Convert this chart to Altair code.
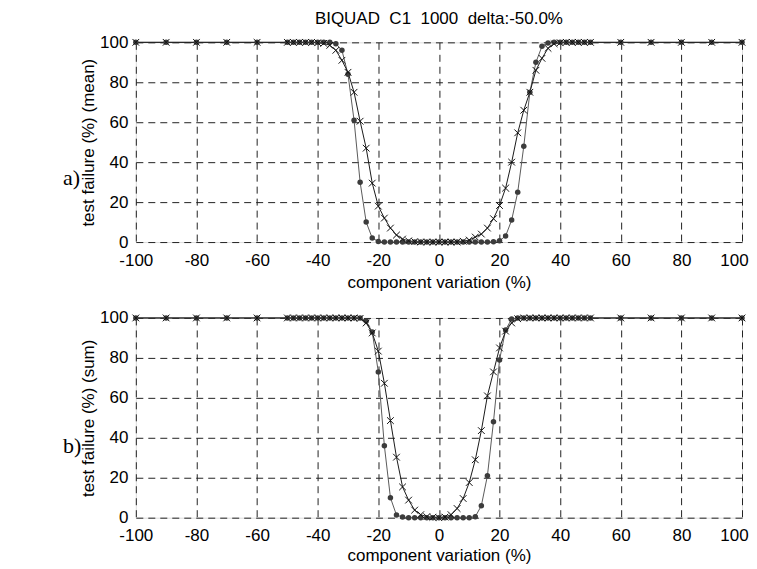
import altair as alt
import pandas as pd

# component variation (%)
x_vals = [-100, -90, -80, -70, -60,
          -50, -48, -46, -44, -42, -40, -38, -36, -34, -32, -30, -28, -26, -24, -22, -20,
          -18, -16, -14, -12, -10, -8, -6, -4, -2, 0, 2, 4, 6, 8, 10, 12, 14, 16, 18, 20,
          22, 24, 26, 28, 30, 32, 34, 36, 38, 40, 42, 44, 46, 48, 50,
          60, 70, 80, 90, 100]

# a) test failure (%) (mean)
mean_circle = [100, 100, 100, 100, 100,
               100, 100, 100, 100, 100, 100, 100, 100, 99.3, 96, 84, 61, 30, 10, 2, 0.3,
               0, 0, 0, 0, 0, 0, 0, 0, 0, 0, 0, 0, 0, 0, 0, 0, 0, 0, 0.2, 0.7,
               3, 11, 25, 48, 75, 90, 98, 99.7, 100, 100, 100, 100, 100, 100, 100,
               100, 100, 100, 100, 100]
mean_cross = [100, 100, 100, 100, 100,
              100, 100, 100, 100, 100, 99.8, 99.5, 98.5, 96, 91, 85, 75, 60.5, 47, 29.5, 18,
              12, 7, 3.5, 1.5, 0.6, 0.2, 0, 0, 0, 0, 0, 0, 0, 0.4, 1, 2.5, 4, 7, 11.7, 18.3,
              27, 40, 54.7, 66, 75, 86, 92, 97, 99.3, 99.8, 100, 100, 100, 100, 100,
              100, 100, 100, 100, 100]

# b) test failure (%) (sum)
sum_circle = [100, 100, 100, 100, 100,
              100, 100, 100, 100, 100, 100, 100, 100, 100, 100, 100, 100, 100, 98.5, 93, 73,
              36, 10, 1.3, 0.3, 0, 0, 0, 0, 0, 0, 0, 0, 0, 0, 0, 0.5, 6, 21, 48, 79,
              94, 99.5, 100, 100, 100, 100, 100, 100, 100, 100, 100, 100, 100, 100, 100,
              100, 100, 100, 100, 100]
sum_cross = [100, 100, 100, 100, 100,
             100, 100, 100, 100, 100, 100, 100, 100, 100, 100, 100, 100, 99.8, 97.5, 92.5, 83.4,
             67.3, 48.6, 30.3, 15.4, 8.8, 3.8, 1.5, 0.5, 0.2, 0, 0.3, 1.5, 4.6, 9.6, 17.6, 29,
             43.6, 61, 73, 85, 93.4, 97.5, 99.6, 100, 100, 100, 100, 100, 100, 100, 100,
             100, 100, 100, 100,
             100, 100, 100, 100, 100]

x_ticks = [-100, -80, -60, -40, -20, 0, 20, 40, 60, 80, 100]
y_ticks = [0, 20, 40, 60, 80, 100]

NBSP = "\u00a0"
chart_title = "BIQUAD" + NBSP + " C1" + NBSP + " 1000" + NBSP + " delta:-50.0%"
x_title = "component variation (%)"

W = 607
FONT = "Liberation Sans"
FS = 17
CROSS = "M -1 -1 L 1 1 M -1 1 L 1 -1"
LABEL_EXPR = "datum.value < 0 ? '-' + abs(datum.value) : '' + datum.value"


def panel(yc, yx, ytitle, tag, tag_y, H, xtitle_y, title=None):
    df = pd.DataFrame({"x": x_vals, "circ": yc, "crs": yx})
    base = alt.Chart(df)
    xenc = alt.X("x:Q", scale=alt.Scale(domain=[-100, 100], nice=False, zero=False),
                 axis=alt.Axis(values=x_ticks, title=x_title, grid=True,
                               gridDash=[7, 5], gridColor="#222", gridWidth=1,
                               ticks=False, domain=False, labelPadding=10,
                               labelFlush=False, labelExpr=LABEL_EXPR,
                               labelOffset={"condition": {"test": "datum.value == 100",
                                                          "value": -8},
                                            "value": 0},
                               labelFont=FONT, labelFontSize=FS, labelColor="black",
                               titleFont=FONT, titleFontSize=FS, titleFontWeight="normal",
                               titleColor="black", titleX=W / 2, titleY=xtitle_y,
                               titleBaseline="middle", titleAlign="center"))
    yaxis = alt.Axis(values=y_ticks, title=ytitle, grid=True,
                     gridDash=[7, 5], gridColor="#222", gridWidth=1,
                     ticks=False, domain=False, labelPadding=8, labelFlush=False,
                     labelFont=FONT, labelFontSize=FS, labelColor="black",
                     titleFont=FONT, titleFontSize=FS, titleFontWeight="normal",
                     titleColor="black", titleX=-47, titleY=H / 2, titleAngle=270,
                     titleBaseline="middle", titleAlign="center")
    yscale = alt.Scale(domain=[0, 100], nice=False)
    yc_enc = alt.Y("circ:Q", scale=yscale, axis=yaxis)
    yx_enc = alt.Y("crs:Q", scale=yscale, axis=yaxis)

    line_c = base.mark_line(color="#5a5a5a", strokeWidth=1).encode(x=xenc, y=yc_enc)
    line_x = base.mark_line(color="#1a1a1a", strokeWidth=1).encode(x=xenc, y=yx_enc)
    pts_c = base.mark_point(shape="circle", filled=True, size=30, color="#3c3c3c",
                            opacity=1).encode(x=xenc, y=yc_enc)
    pts_x = base.mark_point(shape=CROSS, filled=False, size=45, color="#111111",
                            strokeWidth=1, opacity=1).encode(x=xenc, y=yx_enc)

    tag_df = pd.DataFrame({"t": [tag]})
    tag_txt = alt.Chart(tag_df).mark_text(font="Liberation Serif", fontSize=22,
                                          align="left", baseline="middle",
                                          color="black").encode(
        x=alt.value(-73), y=alt.value(tag_y), text="t:N")
    layers = [line_c, line_x, pts_c, pts_x, tag_txt]
    if title is not None:
        t_df = pd.DataFrame({"t": [title]})
        layers.append(alt.Chart(t_df).mark_text(font=FONT, fontSize=FS, align="center",
                                                baseline="middle", color="black").encode(
            x=alt.value(W / 2), y=alt.value(-23), text="t:N"))
    return alt.layer(*layers).properties(width=W, height=H)


top = panel(mean_circle, mean_cross, "test failure (%) (mean)", "a)", 136, 200, 41, chart_title)
bottom = panel(sum_circle, sum_cross, "test failure (%) (sum)", "b)", 128, 200, 38)

chart = alt.vconcat(top, bottom, spacing=16).properties(
    padding={"left": 54, "top": 1, "right": 0, "bottom": 0}
).configure_view(stroke="black", strokeWidth=1).configure(background="white")

chart.save("out.html", embed_options={"renderer": "svg", "actions": False})
